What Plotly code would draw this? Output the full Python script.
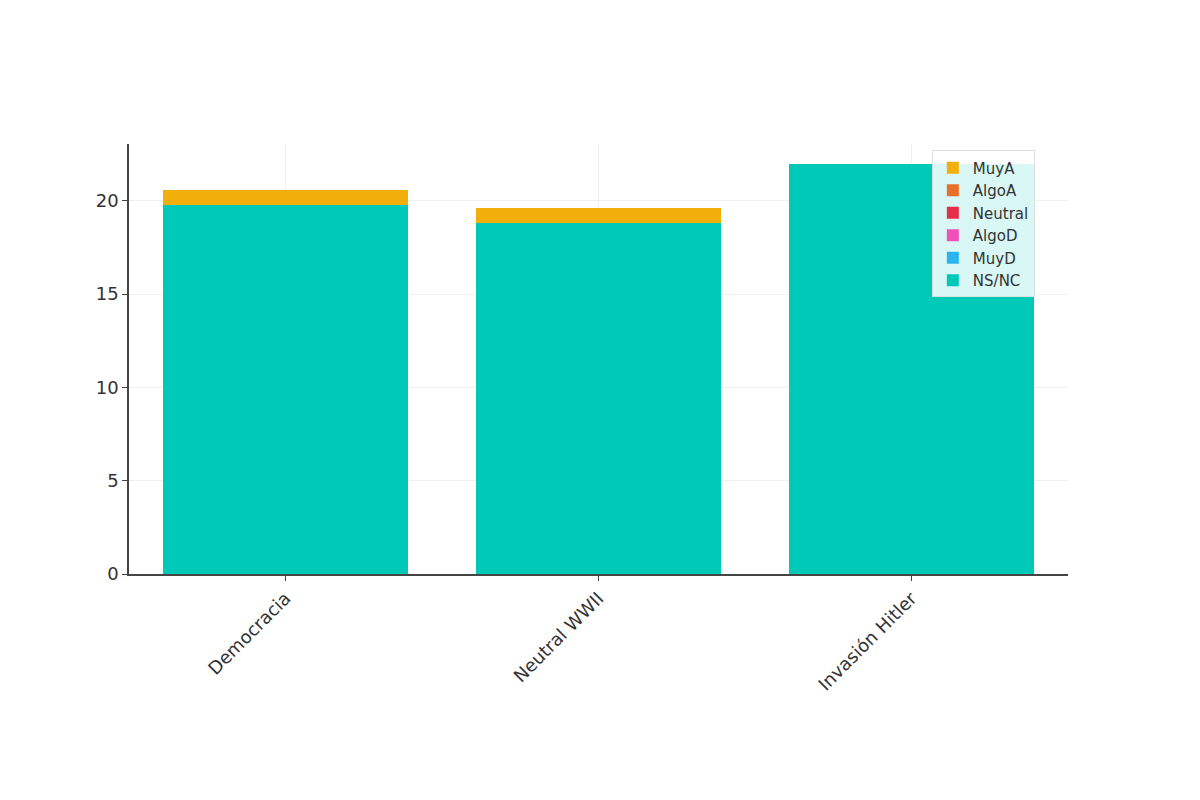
import plotly.graph_objects as go

categories = ["Democracia", "Neutral WWII", "Invasión Hitler"]
ns_nc = [19.8, 18.8, 22.0]
muy_d = [0, 0, 0]
algo_d = [0, 0, 0]
neutral = [0, 0, 0]
algo_a = [0, 0, 0]
muy_a = [0.8, 0.8, 0]

series = [
    ("NS/NC", ns_nc, "#00C9B7"),
    ("MuyD", muy_d, "#2BB5F0"),
    ("AlgoD", algo_d, "#F050B8"),
    ("Neutral", neutral, "#E6304A"),
    ("AlgoA", algo_a, "#E8702A"),
    ("MuyA", muy_a, "#F2AE0A"),
]

fig = go.Figure()
for name, vals, col in series:
    fig.add_bar(x=categories, y=vals, name=name, marker_color=col, marker_line_width=0, width=0.78)

fig.update_layout(
    barmode="stack",
    width=1200, height=800,
    plot_bgcolor="white", paper_bgcolor="white",
    margin=dict(l=121, r=140, t=136, b=234),
    font=dict(family="DejaVu Sans", size=18, color="#333"),
    legend=dict(traceorder="reversed", x=0.855, y=0.985, xanchor="left", yanchor="top",
                bgcolor="rgba(255,255,255,0.85)", bordercolor="#ddd", borderwidth=1,
                font=dict(size=15)),
)
fig.update_xaxes(tickangle=-45, showline=True, linecolor="#444", linewidth=1.5,
                 ticks="outside", tickcolor="#444", showgrid=True, gridcolor="#f0f0f0")
fig.update_yaxes(range=[0, 23.05], dtick=5, showline=True, linecolor="#444", linewidth=1.5,
                 ticks="outside", tickcolor="#444", gridcolor="#f0f0f0", zeroline=False)
fig.write_html("out.html")
